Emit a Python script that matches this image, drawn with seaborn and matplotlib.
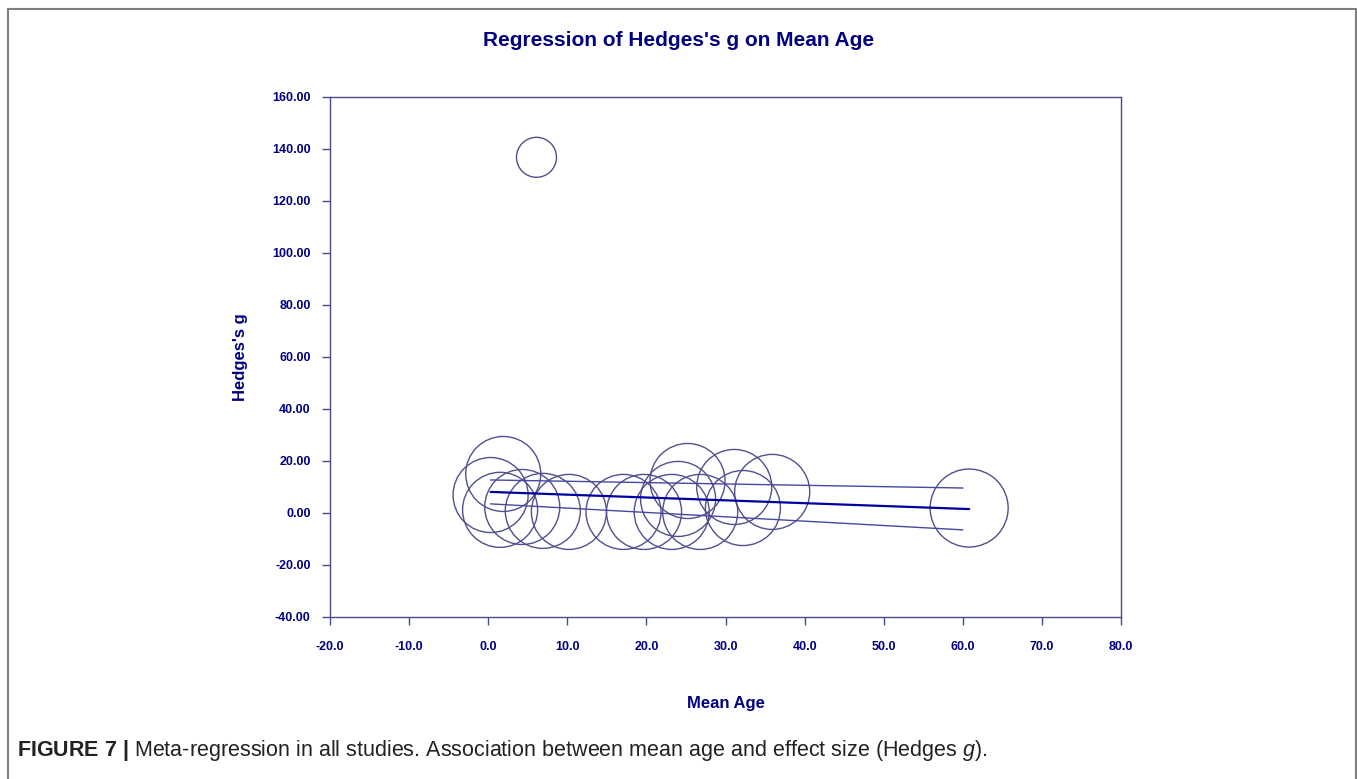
import matplotlib
matplotlib.use("Agg")
import numpy as np
import pandas as pd
import matplotlib.pyplot as plt
from matplotlib.lines import Line2D
import seaborn as sns

# study-level values
mean_age = [0.3, 1.9, 1.5, 4.3, 6.9, 10.2, 17.1, 19.7, 23.2, 24.0,
            25.2, 26.8, 31.1, 32.2, 35.9, 60.8, 6.1]
hedges_g = [6.9, 15.0, 1.2, 2.3, 0.8, 0.4, 0.4, 0.4, 0.4, 5.4,
            12.3, 0.4, 10.0, 1.9, 8.1, 1.9, 136.8]
weight = [1.0, 1.0, 1.0, 1.0, 1.0, 1.0, 1.0, 1.0, 1.0, 1.0,
          1.0, 1.0, 1.0, 1.0, 1.0, 1.08, 0.29]

# regression line and confidence bounds
fit_x = [0.3, 60.8]
fit_y = [8.1, 1.5]
ci_x = [0.3, 60.0]
ci_upper = [12.7, 9.6]
ci_lower = [3.5, -6.5]

x_ticks = [-20, -10, 0, 10, 20, 30, 40, 50, 60, 70, 80]
y_ticks = [-40, -20, 0, 20, 40, 60, 80, 100, 120, 140, 160]

NAVY = "#000080"
CIRCLE = "#50508f"

sns.set_style("white")
plt.rcParams["font.family"] = ["Liberation Sans", "DejaVu Sans"]
plt.rcParams["mathtext.fontset"] = "custom"
plt.rcParams["mathtext.rm"] = "Liberation Sans"
plt.rcParams["mathtext.it"] = "Liberation Sans:italic"
plt.rcParams["mathtext.bf"] = "Liberation Sans:bold"

df = pd.DataFrame({"age": mean_age, "g": hedges_g, "w": weight})

fig = plt.figure(figsize=(13.57, 7.79), dpi=100)
ax = fig.add_axes([0.2432, 0.208, 0.5829, 0.6675])

sns.scatterplot(data=df, x="age", y="g", size="w", sizes=(829, 3154),
                size_norm=(0.29, 1.08), legend=False, ax=ax,
                facecolor="none", edgecolor=CIRCLE, linewidth=1.0)
for coll in ax.collections:
    coll.set_facecolor("none")
    coll.set_edgecolor(CIRCLE)

sns.lineplot(x=ci_x, y=ci_upper, ax=ax, color="#4848a0", linewidth=1.0)
sns.lineplot(x=ci_x, y=ci_lower, ax=ax, color="#4848a0", linewidth=1.0)
sns.lineplot(x=fit_x, y=fit_y, ax=ax, color="#0000a0", linewidth=1.6)

ax.set_xlim(-20, 80)
ax.set_ylim(-40, 160)
ax.set_xticks(x_ticks)
ax.set_yticks(y_ticks)
ax.set_xticklabels([f"{t:.1f}" for t in x_ticks])
ax.set_yticklabels([f"{t:.2f}" for t in y_ticks])
ax.tick_params(axis="both", direction="out", length=6, width=1,
               color="#4a4a8c", labelcolor=NAVY, labelsize=9)
ax.tick_params(axis="x", pad=11, bottom=True)
ax.tick_params(axis="y", pad=8, left=True)
for lbl in ax.get_xticklabels() + ax.get_yticklabels():
    lbl.set_fontweight("bold")
for sp in ax.spines.values():
    sp.set_visible(True)
    sp.set_color("#4a4a8c")
    sp.set_linewidth(1.0)

ax.set_xlabel("Mean Age", fontsize=12, fontweight="bold", color=NAVY,
              labelpad=31)
ax.set_ylabel("Hedges's g", fontsize=12, fontweight="bold", color=NAVY,
              labelpad=17)

fig.text(0.5, 0.948, "Regression of Hedges's g on Mean Age", ha="center",
         va="center", fontsize=15, fontweight="bold", color=NAVY)

fig.text(0.0125, 0.037,
         r"$\bf{FIGURE\ 7\ |}$ Meta-regression in all studies. "
         r"Association between mean age and effect size (Hedges $\it{g}$).",
         ha="left", va="center", fontsize=15.5, color="#222222")

# outer frame of the figure panel
for xs, ys in [([0.006, 0.006], [0.0, 0.988]),
               ([0.006, 0.999], [0.988, 0.988]),
               ([0.999, 0.999], [0.0, 0.988])]:
    fig.add_artist(Line2D(xs, ys, transform=fig.transFigure,
                          color="#808080", linewidth=1.5))

fig.savefig("out.png", dpi=100)
